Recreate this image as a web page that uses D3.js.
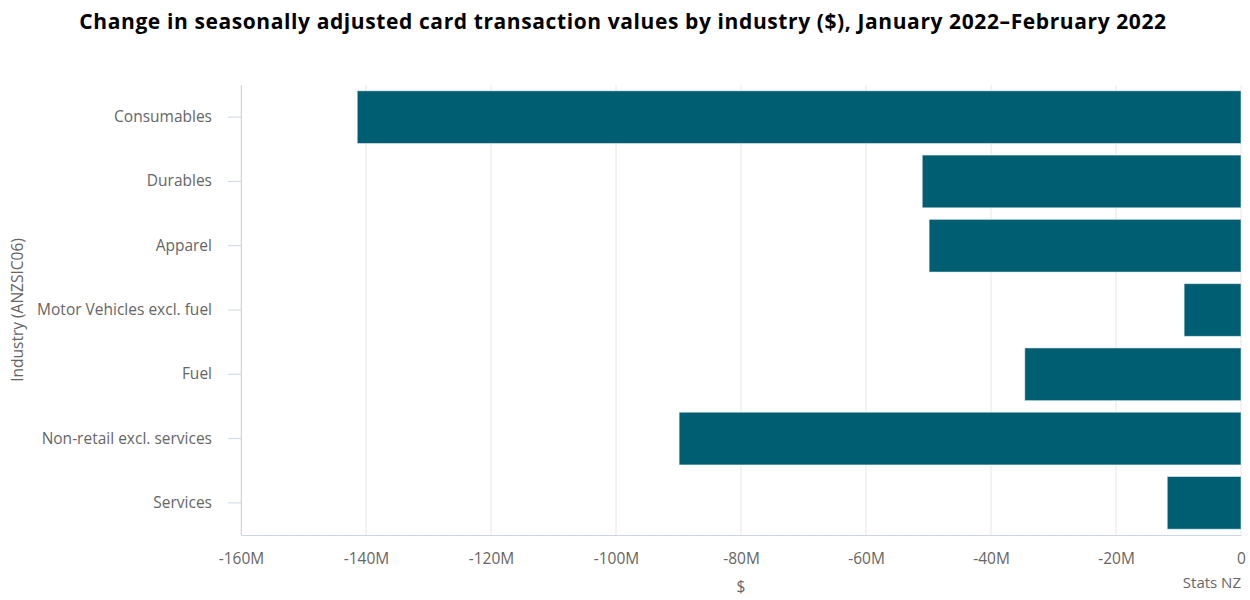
<!DOCTYPE html>
<html>
<head>
<meta charset="utf-8">
<script src="https://cdn.jsdelivr.net/npm/d3@7"></script>
<style>
  body { margin: 0; background: #fff; }
  text { font-family: "Open Sans", Lato, sans-serif; }
  .axis-label { fill: #666666; font-size: 15.5px; }
</style>
</head>
<body>
<div id="chart"></div>
<script>
// industries, top to bottom
var industries = ["Consumables", "Durables", "Apparel", "Motor Vehicles excl. fuel", "Fuel", "Non-retail excl. services", "Services"];
// change in $ (millions)
var changes = [-141.4, -51.0, -49.9, -9.1, -34.6, -89.9, -11.8];
var xTicks = [-160, -140, -120, -100, -80, -60, -40, -20, 0];

var width = 1250, height = 600;
var margin = { top: 85, right: 9, bottom: 65, left: 241 };
var innerW = width - margin.left - margin.right,
    innerH = height - margin.top - margin.bottom;

var svg = d3.select("#chart").append("svg")
    .attr("width", width)
    .attr("height", height);

svg.append("text")
    .attr("x", 623)
    .attr("y", 29)
    .attr("text-anchor", "middle")
    .style("font-size", "21px")
    .style("font-weight", "bold")
    .style("letter-spacing", "0.6px")
    .style("fill", "#000")
    .text("Change in seasonally adjusted card transaction values by industry ($), January 2022\u2013February 2022");

var g = svg.append("g")
    .attr("transform", "translate(" + margin.left + "," + margin.top + ")");

var x = d3.scaleLinear().domain([-160, 0]).range([0, innerW]);
var y = d3.scaleBand().domain(industries).range([0, innerH]).paddingInner(0.18).paddingOuter(0.09);

// gridlines
g.selectAll(".grid")
    .data(xTicks)
    .enter().append("line")
    .attr("class", "grid")
    .attr("x1", function(d) { return x(d); })
    .attr("x2", function(d) { return x(d); })
    .attr("y1", 0)
    .attr("y2", innerH)
    .style("stroke", "#e6e6e6")
    .style("stroke-width", 1);

// bars
g.selectAll(".bar")
    .data(changes)
    .enter().append("rect")
    .attr("class", "bar")
    .attr("x", function(d) { return x(d); })
    .attr("y", function(d, i) { return y(industries[i]); })
    .attr("width", function(d) { return x(0) - x(d); })
    .attr("height", y.bandwidth())
    .style("fill", "#005e73")
    .style("stroke", "#ffffff")
    .style("stroke-opacity", 0.5)
    .style("stroke-width", 1);

// x axis
var xAxis = g.append("g")
    .attr("transform", "translate(0," + innerH + ")")
    .call(d3.axisBottom(x).tickValues(xTicks).tickSize(0).tickPadding(18)
        .tickFormat(function(d) { return d === 0 ? "0" : d + "M"; }));
xAxis.select(".domain").style("stroke", "#ccd6eb");
xAxis.selectAll("text").attr("class", "axis-label").attr("font-family", null).attr("font-size", null);

// y axis
var yAxis = g.append("g")
    .call(d3.axisLeft(y).tickSize(13).tickPadding(16).tickSizeOuter(0));
yAxis.select(".domain").style("stroke", "#ccd6eb");
yAxis.selectAll(".tick line").style("stroke", "#ccd6eb");
yAxis.selectAll("text").attr("class", "axis-label").attr("font-family", null).attr("font-size", null);

// axis titles
svg.append("text")
    .attr("transform", "translate(23," + (margin.top + innerH / 2) + ") rotate(-90)")
    .attr("text-anchor", "middle")
    .attr("class", "axis-label")
    .text("Industry (ANZSIC06)");

svg.append("text")
    .attr("x", margin.left + x(-80))
    .attr("y", 592)
    .attr("text-anchor", "middle")
    .attr("class", "axis-label")
    .text("$");

svg.append("text")
    .attr("x", 1241)
    .attr("y", 588)
    .attr("text-anchor", "end")
    .attr("class", "axis-label")
    .style("font-size", "15px")
    .text("Stats NZ");
</script>
</body>
</html>
